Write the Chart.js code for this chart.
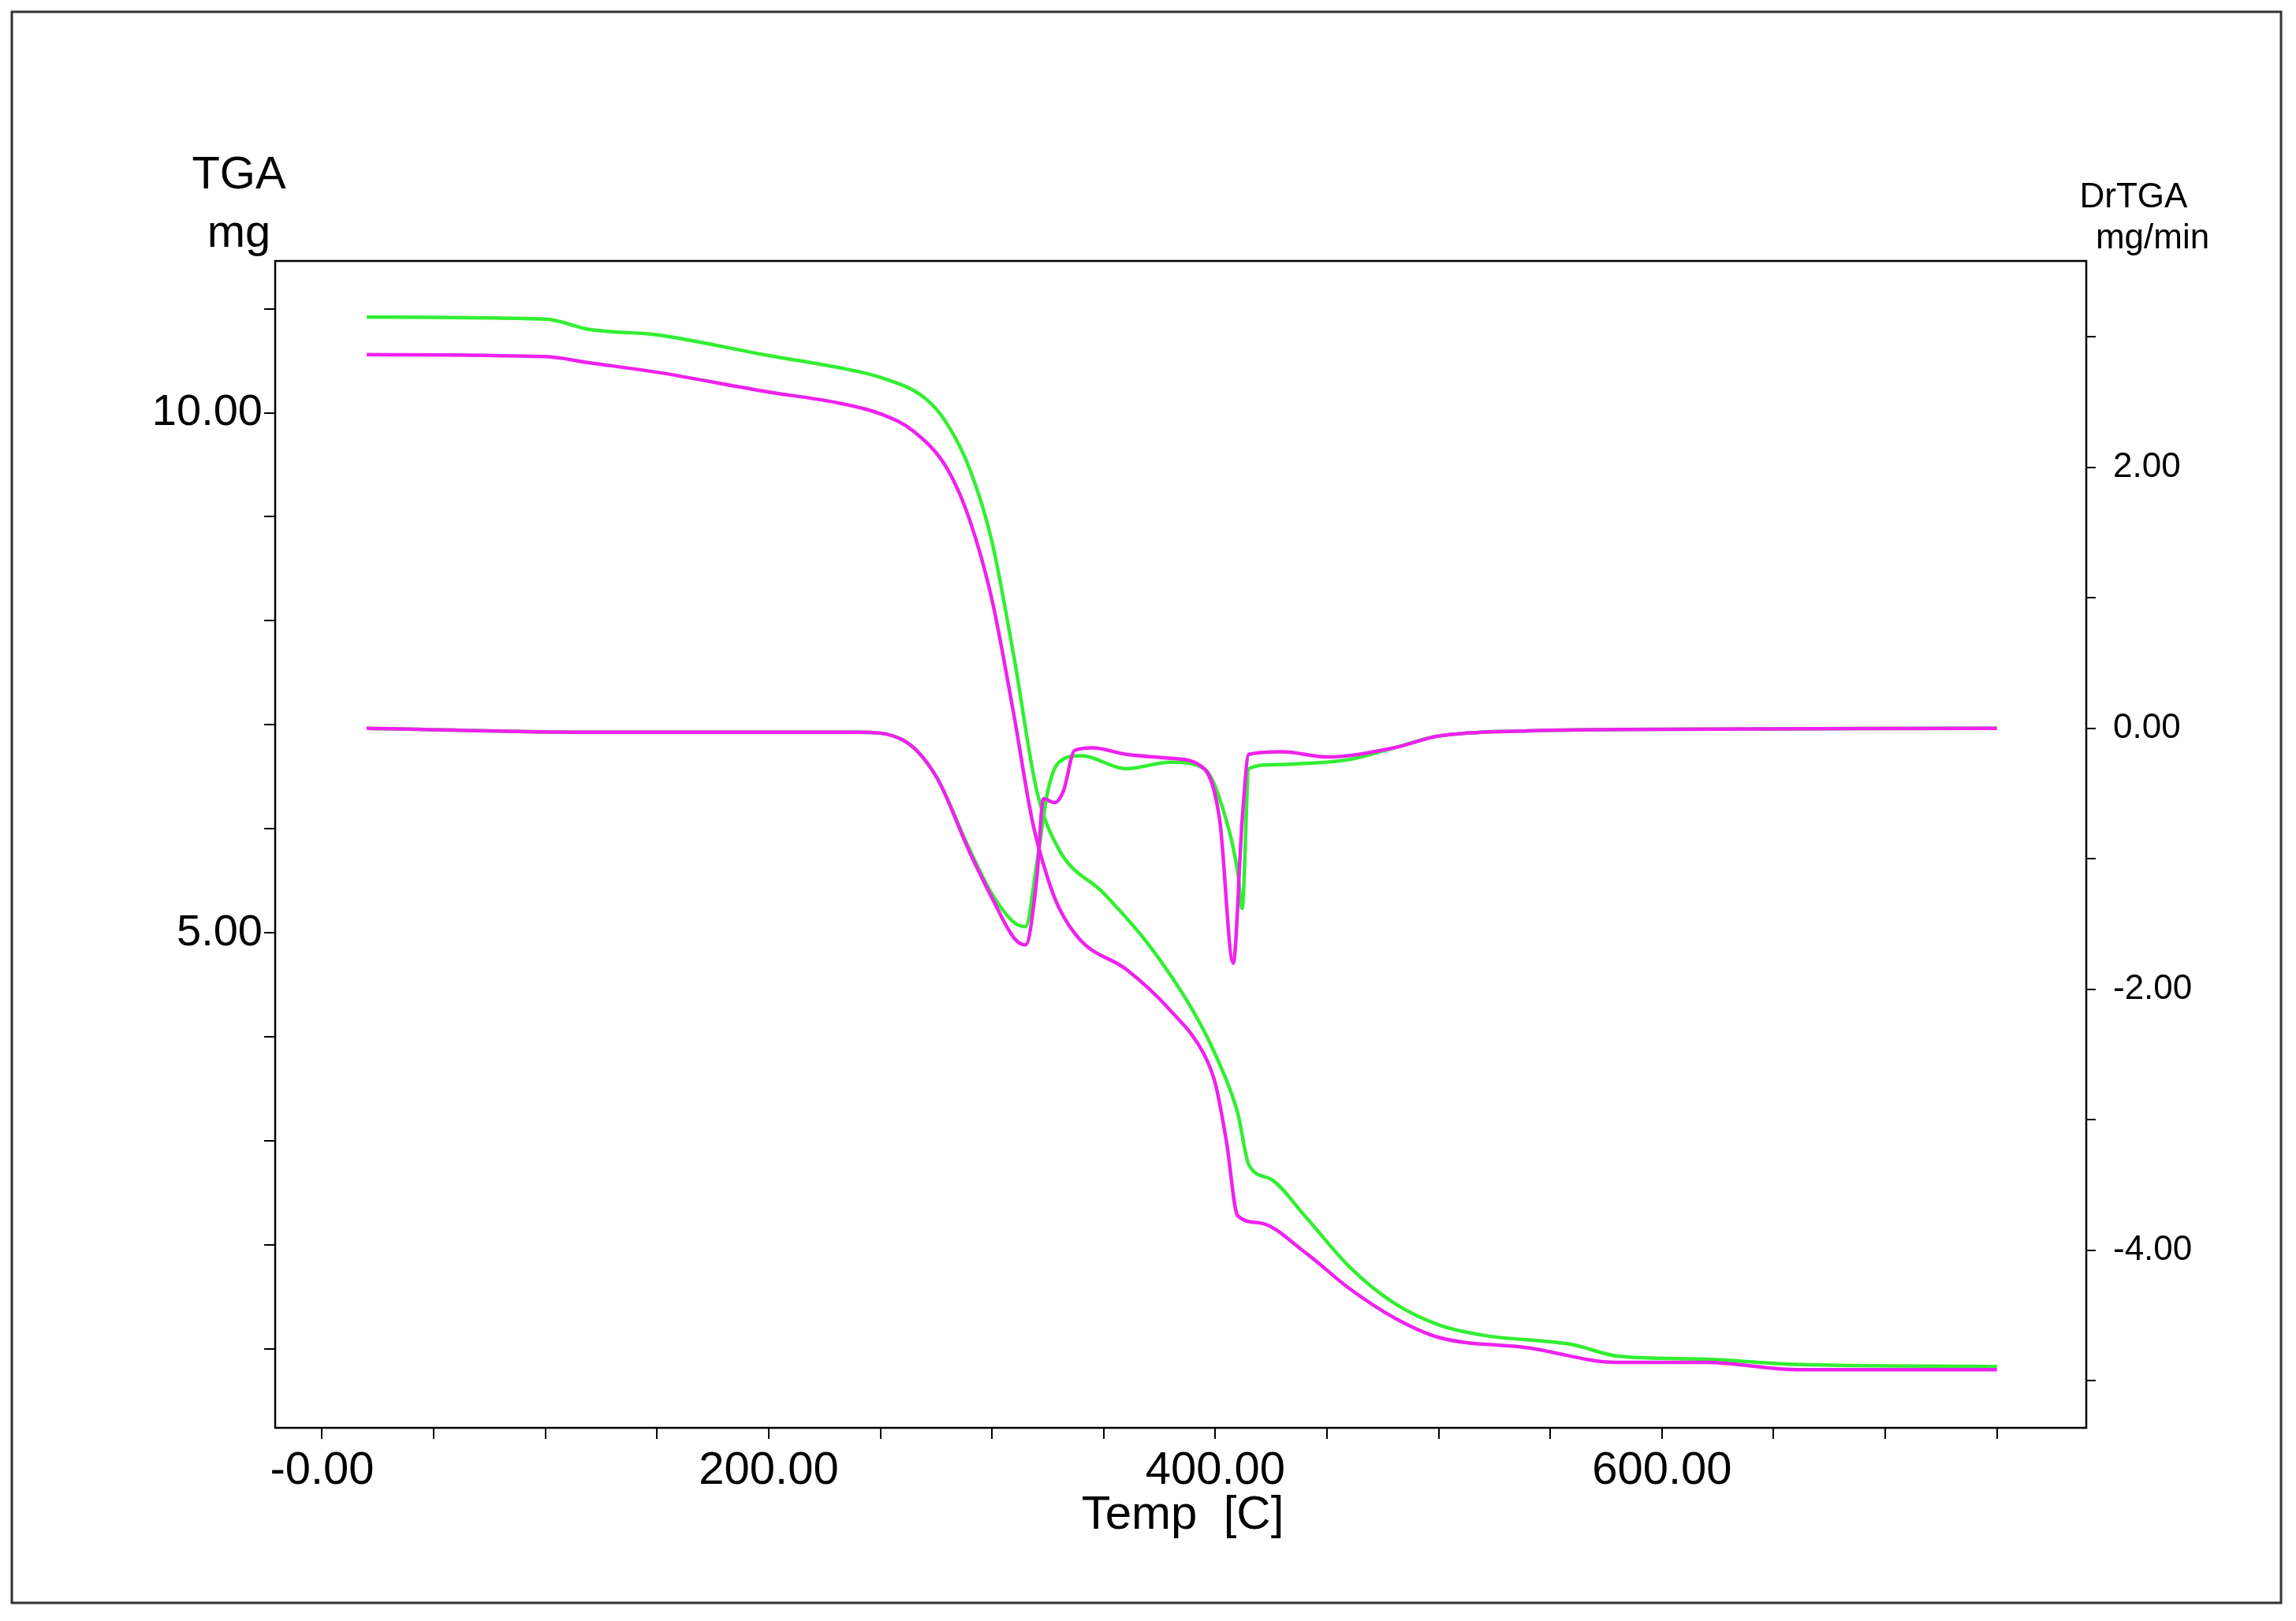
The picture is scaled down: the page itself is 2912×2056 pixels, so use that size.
<!DOCTYPE html>
<html><head><meta charset="utf-8">
<script src="https://cdn.jsdelivr.net/npm/chart.js@4/dist/chart.umd.min.js"></script>
<style>html,body{margin:0;padding:0;background:#fff}#wrap{width:2912px;height:2056px}</style>
</head><body><div id="wrap"><canvas id="c"></canvas></div>
<script>
const tgaGreenT = [20,100,120,150,200,230,250,270,280,290,300,310,320,330,350,370,390,400,410,415,425,440,460,480,500,520,560,580,620,660,750];
const tgaGreen  = [10.92,10.9,10.8,10.75,10.55,10.44,10.34,10.14,9.89,9.46,8.76,7.63,6.37,5.8,5.38,4.89,4.25,3.83,3.27,2.77,2.63,2.28,1.79,1.44,1.23,1.13,1.04,0.93,0.9,0.85,0.83];
const tgaMagT = [20,100,120,150,200,230,250,265,280,290,300,310,318,325,330,340,360,380,395,400,405,410,420,440,460,480,500,540,580,620,660,750];
const tgaMag  = [10.56,10.54,10.48,10.39,10.2,10.1,9.99,9.82,9.46,8.97,8.2,7.07,6.08,5.52,5.24,4.92,4.65,4.25,3.83,3.55,2.99,2.28,2.21,1.93,1.58,1.3,1.11,1.01,0.87,0.87,0.8,0.8];
const dtgGreenT = [20,120,200,240,260,275,290,300,310,315,320,325,330,340,360,380,395,405,410,412,415,425,440,460,480,500,540,580,750];
const dtgGreen  = [0,-0.03,-0.03,-0.03,-0.09,-0.37,-0.93,-1.27,-1.49,-1.52,-1.04,-0.48,-0.26,-0.21,-0.31,-0.26,-0.31,-0.71,-1.1,-1.38,-0.31,-0.28,-0.27,-0.24,-0.15,-0.06,-0.02,-0.01,0];
const dtgMagT = [20,120,200,240,260,275,290,300,310,315,320,323,328,332,337,345,360,380,395,402,408,412,415,430,450,480,500,540,580,750];
const dtgMag  = [0,-0.03,-0.03,-0.03,-0.09,-0.37,-0.95,-1.3,-1.61,-1.66,-1.16,-0.54,-0.57,-0.48,-0.17,-0.15,-0.2,-0.23,-0.31,-0.71,-1.8,-0.71,-0.2,-0.18,-0.22,-0.15,-0.06,-0.02,-0.01,0];
const xTicks = [0,50,100,150,200,250,300,350,400,450,500,550,600,650,700,750];
const xLabels = [0,200,400,600];

const pts=(xs,ys)=>xs.map((x,i)=>({x:x,y:ys[i]}));
const GREEN='#33ee33', MAG='#ee22ee';
const ds=(data,color,axis)=>({data,borderColor:color,borderWidth:4.5,pointRadius:0,yAxisID:axis,cubicInterpolationMode:'monotone'});
const fix=(arr)=>s=>{s.ticks=arr.map(v=>({value:v}));};
const font='"Liberation Sans", Arial, sans-serif';

const deco={id:'deco',
 beforeDraw(ch){const c=ch.ctx;c.save();c.fillStyle='#fff';c.fillRect(0,0,ch.width,ch.height);
  c.strokeStyle='#333';c.lineWidth=3;c.strokeRect(15,15,2878,2018);c.restore();},
 afterDraw(ch){const c=ch.ctx,a=ch.chartArea;c.save();c.strokeStyle='#000';c.lineWidth=2.5;
  c.strokeRect(a.left,a.top,a.right-a.left,a.bottom-a.top);
  c.fillStyle='#000';c.textAlign='center';c.textBaseline='middle';
  c.font='58px '+font;c.fillText('TGA',303,223);c.fillText('mg',303,297);
  c.font='44px '+font;c.fillText('DrTGA',2706,251);c.fillText('mg/min',2730,303);
  c.font='60px '+font;c.fillText('Temp  [C]',1500,1922);c.restore();}};

new Chart(document.getElementById('c'),{type:'line',
 data:{datasets:[ds(pts(dtgMagT,dtgMag),MAG,'y1'),ds(pts(tgaMagT,tgaMag),MAG,'y'),
   ds(pts(tgaGreenT,tgaGreen),GREEN,'y'),ds(pts(dtgGreenT,dtgGreen),GREEN,'y1')]},
 options:{responsive:true,maintainAspectRatio:false,animation:false,devicePixelRatio:1,
  layout:{padding:{top:331,left:0,right:0,bottom:0}},
  plugins:{legend:{display:false},tooltip:{enabled:false}},
  scales:{
   x:{type:'linear',min:-21,max:790,afterBuildTicks:fix(xTicks),afterFit:s=>{s.height=245;},
    border:{display:false},grid:{drawOnChartArea:false,drawTicks:true,tickLength:14,color:'#000',lineWidth:2},
    ticks:{color:'#000',font:{size:58,family:font},padding:6,maxRotation:0,autoSkip:false,
     callback:v=>xLabels.includes(v)?(v===0?'-0.00':v.toFixed(2)):''}},
   y:{type:'linear',position:'left',min:0.24,max:11.46,afterBuildTicks:fix([1,2,3,4,5,6,7,8,9,10,11]),afterFit:s=>{s.width=349;},
    border:{display:false},grid:{drawOnChartArea:false,drawTicks:true,tickLength:14,color:'#000',lineWidth:2},
    ticks:{color:'#000',font:{size:56,family:font},padding:2,autoSkip:false,
     callback:v=>(v===5||v===10)?v.toFixed(2):''}},
   y1:{type:'linear',position:'right',min:-5.36,max:3.58,afterBuildTicks:fix([-5,-4,-3,-2,-1,0,1,2,3]),afterFit:s=>{s.width=266;},
    border:{display:false},grid:{drawOnChartArea:false,drawTicks:true,tickLength:12,color:'#000',lineWidth:2},
    ticks:{color:'#000',font:{size:44,family:font},padding:22,autoSkip:false,
     callback:v=>(v%2===0)?v.toFixed(2):''}}
  }},
 plugins:[deco]});
</script></body></html>
